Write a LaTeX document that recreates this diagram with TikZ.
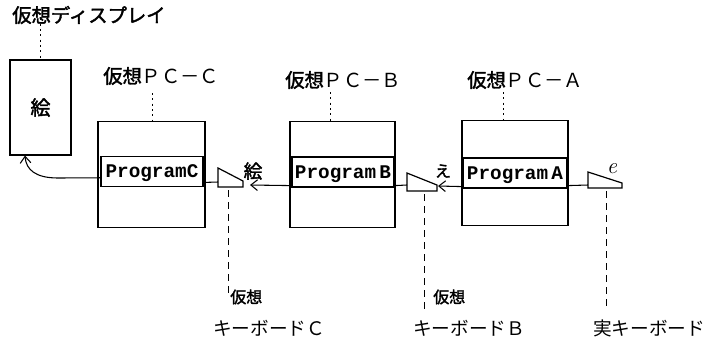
\documentclass[tikz,border=0pt]{standalone}
\usepackage{fontspec}
\newfontfamily\jp{Noto Sans CJK JP}
\newfontfamily\jpb{Noto Sans CJK JP}[FakeBold=2]
\setmonofont{Liberation Mono}
\usetikzlibrary{arrows.meta}
\tikzset{
  pcbox/.style={draw, line width=0.8pt, minimum width=#1, minimum height=79pt, inner sep=0pt},
  progbox/.style={draw, line width=0.9pt, minimum height=22.5pt, inner sep=0pt, font=\ttfamily\bfseries\fontsize{14.5}{14.5}\selectfont, text depth=0pt},
  title/.style={anchor=west, inner sep=0pt, font=\fontsize{14.5}{16}\selectfont},
  small/.style={anchor=west, inner sep=0pt, font=\jpb\fontsize{12}{14}\selectfont},
  kblab/.style={anchor=west, inner sep=0pt, font=\jp\fontsize{14}{16}\selectfont},
  dotline/.style={line width=0.5pt, dash pattern=on 1.5pt off 2.5pt},
  dashline/.style={line width=0.6pt, dash pattern=on 5pt off 4pt},
  conn/.style={line width=0.8pt},
  arr/.style={line width=0.8pt, -{Straight Barb[length=5pt,width=8pt]}},
  kb/.style={line width=0.9pt}
}
\begin{document}
\begin{tikzpicture}[x=0.75pt,y=-0.75pt]
\useasboundingbox (0,0) rectangle (714,344);
% display
\node[title] (tdisp) at (12,15) {\jpb 仮想ディスプレイ};
\node[draw, line width=0.8pt, minimum width=45.75pt, minimum height=71.25pt, inner sep=0pt, font=\jpb\fontsize{15}{15}\selectfont] (disp) at (40.5,107.5) {絵};
\draw[dotline] (tdisp.south -| disp.north) ++(0,-6) -- (disp.north);
% PC-C
\node[title] (tC) at (103,76) {{\jpb 仮想}{\jp ＰＣ－Ｃ}};
\node[pcbox=80.25pt] (pcC) at (151.5,174.5) {};
\node[progbox, minimum width=76.5pt] (progC) at (152,171.5) {ProgramC};
\draw[dotline] (152,93) -- (pcC.north -| 152,0);
% PC-B
\node[title] (tB) at (285,80) {{\jpb 仮想}{\jp ＰＣ－Ｂ}};
\node[pcbox=78.75pt] (pcB) at (342.5,174.5) {};
\node[progbox, minimum width=76.5pt] (progB) at (343,172) {Program\,B};
\draw[dotline] (330,92) -- (pcB.north -| 330,0);
% PC-A
\node[title] (tA) at (467,80) {{\jpb 仮想}{\jp ＰＣ－Ａ}};
\node[pcbox=79.5pt] (pcA) at (515,173) {};
\node[progbox, minimum width=78pt] (progA) at (515,173) {Program\,A};
\draw[dotline] (503,92) -- (pcA.north -| 503,0);
% keyboard C
\coordinate (kC1) at (218,168);
\coordinate (kC2) at (243,181);
\coordinate (kC3) at (243,187);
\coordinate (kC4) at (218,187);
\coordinate (kCb) at (228,187);
\draw[kb] (kC1) -- (kC2) -- (kC3) -- (kC4) -- cycle;
\draw[conn] ([yshift=3.5pt]progC.south east) -- (kC4 |- 0,182);
\node[inner sep=0pt, font=\jpb\fontsize{14}{14}\selectfont] (eC) at (253,171) {絵};
\coordinate (tipC) at (250,185);
\draw[arr] ([yshift=1.5pt]progB.south west) -- (tipC);
\draw[dashline] (kCb) ++(0,3) -- (228,296);
\node[small] (vC) at (230,297) {仮想};
\node[kblab] (kbC) at (213,328) {キーボードＣ};
% keyboard B
\coordinate (kB1) at (407,173);
\coordinate (kB2) at (437,185);
\coordinate (kB3) at (437,191);
\coordinate (kB4) at (407,191);
\coordinate (kBb) at (424,191);
\draw[kb] (kB1) -- (kB2) -- (kB3) -- (kB4) -- cycle;
\draw[conn] ([yshift=1.5pt]progB.south east) -- (kB4 |- 0,185);
\node[inner sep=0pt, font=\jpb\fontsize{12}{12}\selectfont] (eB) at (443,171) {え};
\coordinate (tipB) at (438,186);
\draw[arr] ([yshift=1.5pt]progA.south west) -- (tipB);
\draw[dashline] (kBb) ++(0,3) -- (424,310);
\node[small] (vB) at (433,297) {仮想};
\node[kblab] (kbB) at (413,328) {キーボードＢ};
% keyboard A
\coordinate (kA1) at (588,172);
\coordinate (kA2) at (622,183);
\coordinate (kA3) at (622,188);
\coordinate (kA4) at (588,188);
\coordinate (kAb) at (606,188);
\draw[kb] (kA1) -- (kA2) -- (kA3) -- (kA4) -- cycle;
\draw[conn] ([yshift=2.25pt]progA.south east) -- (kA4 |- 0,185);
\node[inner sep=0pt, font=\itshape\fontsize{17}{17}\selectfont] (eA) at (612,169) {e};
\draw[dashline] (kAb) ++(0,3) -- (606,310);
\node[kblab] (kbA) at (593,328) {実キーボード};
% output to display
\coordinate (outC) at ([yshift=7pt]progC.south west);
\draw[arr] (outC) -- (58,178) .. controls (36,178) and (26,170) .. (disp.south -| 25,0);
\end{tikzpicture}
\end{document}
